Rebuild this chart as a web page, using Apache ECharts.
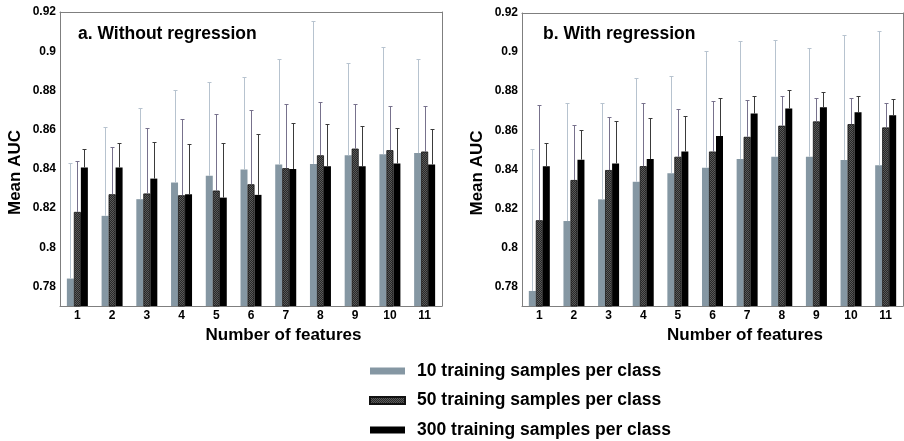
<!DOCTYPE html>
<html>
<head>
<meta charset="utf-8">
<script src="https://cdn.jsdelivr.net/npm/echarts@6/dist/echarts.min.js"></script>
<style>
html,body{margin:0;padding:0;background:#fff;}
#chart{width:904px;height:441px;}
</style>
</head>
<body>
<div id="chart"></div>
<script>
// ---------- data ----------
const categories = ['1','2','3','4','5','6','7','8','9','10','11'];
const yTickValues = [0.78, 0.80, 0.82, 0.84, 0.86, 0.88, 0.90, 0.92];
const seriesNames = ['10 training samples per class', '50 training samples per class', '300 training samples per class'];
const panelTitles = ['a. Without regression', 'b. With regression'];

// a. Without regression: mean AUC and upper end of error bar
const meanA10  = [0.784, 0.816, 0.8245, 0.833, 0.8364, 0.8396, 0.8422, 0.8425, 0.8469, 0.8474, 0.848];
const upperA10 = [0.843, 0.8614, 0.8712, 0.8802, 0.8843, 0.8867, 0.8962, 0.9154, 0.8942, 0.9023, 0.8962];
const meanA50  = [0.818, 0.827, 0.8274, 0.8265, 0.8289, 0.8321, 0.8403, 0.8469, 0.8503, 0.8495, 0.8488];
const upperA50 = [0.8442, 0.8512, 0.8609, 0.8654, 0.8682, 0.8702, 0.8733, 0.8743, 0.8733, 0.8721, 0.8721];
const meanA300  = [0.8407, 0.8407, 0.835, 0.827, 0.8253, 0.8267, 0.8399, 0.8413, 0.8413, 0.8427, 0.8422];
const upperA300 = [0.850, 0.8534, 0.8539, 0.8524, 0.8534, 0.8576, 0.8636, 0.8627, 0.8619, 0.8609, 0.8605];

// b. With regression
const meanB10  = [0.7777, 0.8135, 0.8246, 0.8336, 0.838, 0.8408, 0.8452, 0.8464, 0.8464, 0.8447, 0.842];
const upperB10 = [0.8505, 0.874, 0.874, 0.8869, 0.8876, 0.9006, 0.9055, 0.9064, 0.9023, 0.9086, 0.9108];
const meanB50  = [0.8139, 0.8345, 0.8396, 0.8416, 0.8464, 0.8491, 0.8566, 0.8623, 0.8645, 0.8631, 0.8614];
const upperB50 = [0.8731, 0.8626, 0.8667, 0.874, 0.8709, 0.875, 0.8755, 0.8774, 0.8764, 0.8764, 0.874];
const meanB300  = [0.8416, 0.8449, 0.843, 0.8452, 0.8491, 0.857, 0.8685, 0.8711, 0.8718, 0.8692, 0.8677];
const upperB300 = [0.8536, 0.8602, 0.8646, 0.8663, 0.8672, 0.8766, 0.8774, 0.8805, 0.8794, 0.8774, 0.876];

// ---------- styling ----------
const FONT = 'Arial, "Liberation Sans", sans-serif';
const AXIS_COLOR = '#7f7f7f';
const BAR_W = 7;

function hatchPattern() {
  const c = document.createElement('canvas');
  c.width = 4; c.height = 4;
  const g = c.getContext('2d');
  g.fillStyle = '#282828';
  g.fillRect(0, 0, 4, 4);
  g.fillStyle = '#5a5a5a';
  for (let i = 0; i < 4; i++) {
    g.fillRect(i, i, 1, 1);
    g.fillRect((i + 2) % 4, i, 1, 1);
  }
  return {image: c, repeat: 'repeat'};
}

const barStyles = [
  {color: '#8597a3'},
  {color: hatchPattern(), borderColor: '#111111', borderWidth: 0.8},
  {color: '#000000'}
];
const errColors = ['#b7c3cf', '#77718c', '#3a3a3a'];

function barSeries(gridIdx, slot, data) {
  return {
    type: 'bar', name: seriesNames[slot],
    xAxisIndex: gridIdx * 2, yAxisIndex: gridIdx * 2,
    data: data, barWidth: BAR_W, barGap: '0%',
    itemStyle: barStyles[slot], z: 2
  };
}

function errSeries(gridIdx, slot, means, uppers) {
  return {
    type: 'custom', name: 'err' + gridIdx + '_' + slot,
    xAxisIndex: gridIdx * 2, yAxisIndex: gridIdx * 2,
    data: means.map((m, i) => [i, m, uppers[i]]),
    z: 3, silent: true,
    renderItem: function (params, api) {
      const top = api.coord([api.value(0), api.value(2)]);
      const base = api.coord([api.value(0), api.value(1)]);
      const x = Math.round(top[0] + (slot - 1) * BAR_W) + 0.5;
      const yt = Math.round(top[1]) + 0.5;
      const col = errColors[slot];
      return {
        type: 'group',
        children: [
          {type: 'line', shape: {x1: x, y1: base[1], x2: x, y2: yt}, style: {stroke: col, lineWidth: 1}},
          {type: 'line', shape: {x1: x - 2, y1: yt, x2: x + 2, y2: yt}, style: {stroke: col, lineWidth: 1}}
        ]
      };
    }
  };
}

function xAxes(gridIdx) {
  const tick = {inside: true, alignWithLabel: true, length: 4, lineStyle: {color: AXIS_COLOR}};
  return [
    {
      gridIndex: gridIdx, type: 'category', data: categories, position: 'bottom',
      axisLine: {lineStyle: {color: AXIS_COLOR, width: 1}},
      axisTick: tick,
      axisLabel: {color: '#000', fontWeight: 'bold', fontSize: 12, fontFamily: FONT, margin: 4},
      name: 'Number of features', nameLocation: 'middle', nameGap: 19,
      nameTextStyle: {color: '#000', fontWeight: 'bold', fontSize: 17, fontFamily: FONT, padding: [0, 0, 0, 65]}
    },
    {
      gridIndex: gridIdx, type: 'category', data: categories, position: 'top',
      axisLine: {lineStyle: {color: AXIS_COLOR, width: 1}},
      axisTick: tick, axisLabel: {show: false}
    }
  ];
}

function yAxes(gridIdx) {
  const tick = {inside: true, length: 4, customValues: yTickValues, lineStyle: {color: AXIS_COLOR}};
  return [
    {
      gridIndex: gridIdx, type: 'value', min: 0.77, max: 0.92, position: 'left',
      splitLine: {show: false},
      axisLine: {show: true, lineStyle: {color: AXIS_COLOR, width: 1}},
      axisTick: tick,
      axisLabel: {
        customValues: yTickValues, color: '#000', fontWeight: 'bold', fontSize: 12, fontFamily: FONT, margin: 4,
        formatter: v => String(+(+v).toFixed(2))
      },
      name: 'Mean AUC', nameLocation: 'middle', nameGap: 36, nameRotate: 90,
      nameTextStyle: {color: '#000', fontWeight: 'bold', fontSize: 17, fontFamily: FONT, padding: [0, 27, 0, 0]}
    },
    {
      gridIndex: gridIdx, type: 'value', min: 0.77, max: 0.92, position: 'right',
      splitLine: {show: false},
      axisLine: {show: true, lineStyle: {color: AXIS_COLOR, width: 1}},
      axisTick: tick, axisLabel: {show: false}
    }
  ];
}

const chart = echarts.init(document.getElementById('chart'), null, {renderer: 'canvas'});
chart.setOption({
  backgroundColor: '#ffffff',
  animation: false,
  textStyle: {fontFamily: FONT},
  title: [
    {text: panelTitles[0], left: 78, top: 25, padding: 0,
     textStyle: {fontSize: 17.5, fontWeight: 'bold', color: '#000', fontFamily: FONT}},
    {text: panelTitles[1], left: 543, top: 25, padding: 0,
     textStyle: {fontSize: 17.5, fontWeight: 'bold', color: '#000', fontFamily: FONT}}
  ],
  grid: [
    {left: 60, right: 462, top: 12, bottom: 135, outerBoundsMode: 'none'},
    {left: 522, right: 1, top: 13, bottom: 135, outerBoundsMode: 'none'}
  ],
  legend: {
    data: seriesNames, orient: 'vertical', left: 369, top: 362,
    itemWidth: 35, itemHeight: 7, itemGap: 11.5, padding: 0,
    icon: 'rect', selectedMode: false,
    textStyle: {fontSize: 17.5, fontWeight: 'bold', color: '#000', fontFamily: FONT, padding: [0, 0, 0, 7]}
  },
  xAxis: [...xAxes(0), ...xAxes(1)],
  yAxis: [...yAxes(0), ...yAxes(1)],
  series: [
    barSeries(0, 0, meanA10), barSeries(0, 1, meanA50), barSeries(0, 2, meanA300),
    barSeries(1, 0, meanB10), barSeries(1, 1, meanB50), barSeries(1, 2, meanB300),
    errSeries(0, 0, meanA10, upperA10), errSeries(0, 1, meanA50, upperA50), errSeries(0, 2, meanA300, upperA300),
    errSeries(1, 0, meanB10, upperB10), errSeries(1, 1, meanB50, upperB50), errSeries(1, 2, meanB300, upperB300)
  ]
});
</script>
</body>
</html>
